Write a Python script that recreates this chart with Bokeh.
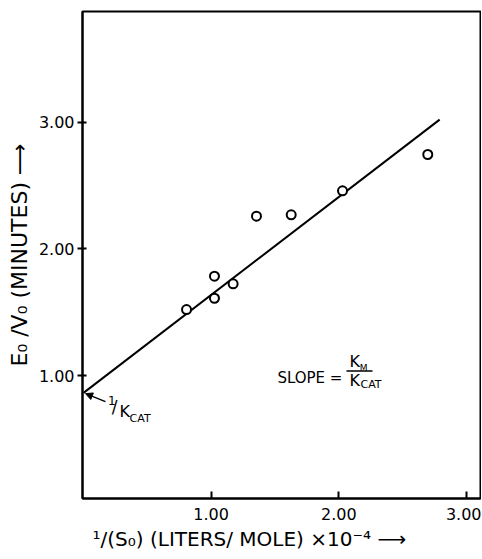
from bokeh.plotting import figure
from bokeh.models import (Range1d, FixedTicker, NumeralTickFormatter, Label,
                          Arrow, NormalHead, ColumnDataSource, Title)
from bokeh.embed import file_html
from bokeh.resources import INLINE

# ---- data ----
inv_s0 = [0.807, 1.026, 1.026, 1.172, 1.355, 1.627, 2.029, 2.697]
e0_v0 = [1.521, 1.784, 1.610, 1.724, 2.258, 2.269, 2.458, 2.745]
fit_x = [0.0, 2.79]
fit_y = [0.863, 3.02]
x_ticks = [1, 2, 3]
y_ticks = [1, 2, 3]

FONT = "DejaVu Sans"

p = figure(width=481, height=558, output_backend="svg", toolbar_location=None,
           x_range=Range1d(-0.008, 3.11), y_range=Range1d(0.029, 3.874),
           min_border_left=82, min_border_right=1, min_border_top=11,
           min_border_bottom=60)
p.grid.visible = False
p.background_fill_color = "white"
p.border_fill_color = "white"
p.outline_line_color = "black"
p.outline_line_width = 2
p.outline_line_alpha = 1

for ax in (p.xaxis[0], p.yaxis[0]):
    ax.formatter = NumeralTickFormatter(format="0.00")
    ax.axis_line_width = 2
    ax.major_tick_line_width = 2
    ax.minor_tick_in = 0
    ax.minor_tick_out = 0
    ax.major_label_text_font = FONT
    ax.major_label_text_font_size = "16px"
    ax.major_label_text_color = "black"
    ax.axis_label_text_font = FONT
    ax.axis_label_text_font_style = "normal"
    ax.axis_label_text_color = "black"

p.xaxis.ticker = FixedTicker(ticks=x_ticks)
p.xaxis.major_tick_in = 7
p.xaxis.major_tick_out = 0
p.xaxis.major_label_standoff = 9

p.yaxis.ticker = FixedTicker(ticks=y_ticks)
p.yaxis.major_tick_in = 4
p.yaxis.major_tick_out = 5
p.yaxis.major_label_standoff = 3
p.yaxis.axis_label = "E\u2080 /V\u2080 (MINUTES) \u27f6"
p.yaxis.axis_label_text_font_size = "22px"
p.yaxis.axis_label_standoff = 4

# x-axis label as a title below the axis
p.add_layout(Title(text="\u00b9/(S\u2080) (LITERS/ MOLE) \u00d710\u207b\u2074 \u27f6",
                   align="left", offset=10, text_font=FONT, text_font_size="20px",
                   text_font_style="normal", text_color="black", standoff=5),
             "below")

# fitted line and points
p.line(fit_x, fit_y, line_color="black", line_width=2)
src = ColumnDataSource(dict(x=inv_s0, y=e0_v0))
p.scatter("x", "y", source=src, marker="circle", size=9, fill_color="white",
          line_color="black", line_width=2)

def lab(x, y, text, size, align="left"):
    p.add_layout(Label(x=x, y=y, text=text, text_font=FONT,
                       text_font_size=size, text_color="black",
                       text_align=align, text_baseline="middle"))

# slope annotation
lab(1.519, 0.984, "SLOPE =", "15px")
lab(2.083, 1.111, "K", "16px")
lab(2.165, 1.060, "M", "9px")
p.add_layout(Arrow(end=None, x_start=2.060, y_start=1.036, x_end=2.264, y_end=1.036,
                   line_color="black", line_width=1.5))
lab(2.083, 0.960, "K", "16px")
lab(2.170, 0.929, "CAT", "11px")

# intercept annotation
p.add_layout(Arrow(end=NormalHead(size=7, fill_color="black", line_color="black"),
                   x_start=0.172, y_start=0.794, x_end=0.016, y_end=0.857,
                   line_color="black", line_width=1.5))
lab(0.192, 0.805, "1", "12px")
lab(0.222, 0.755, "/", "17px")
lab(0.282, 0.716, "K", "16px")
lab(0.361, 0.660, "CAT", "11px")

open("out.html", "w").write(file_html(p, INLINE))
